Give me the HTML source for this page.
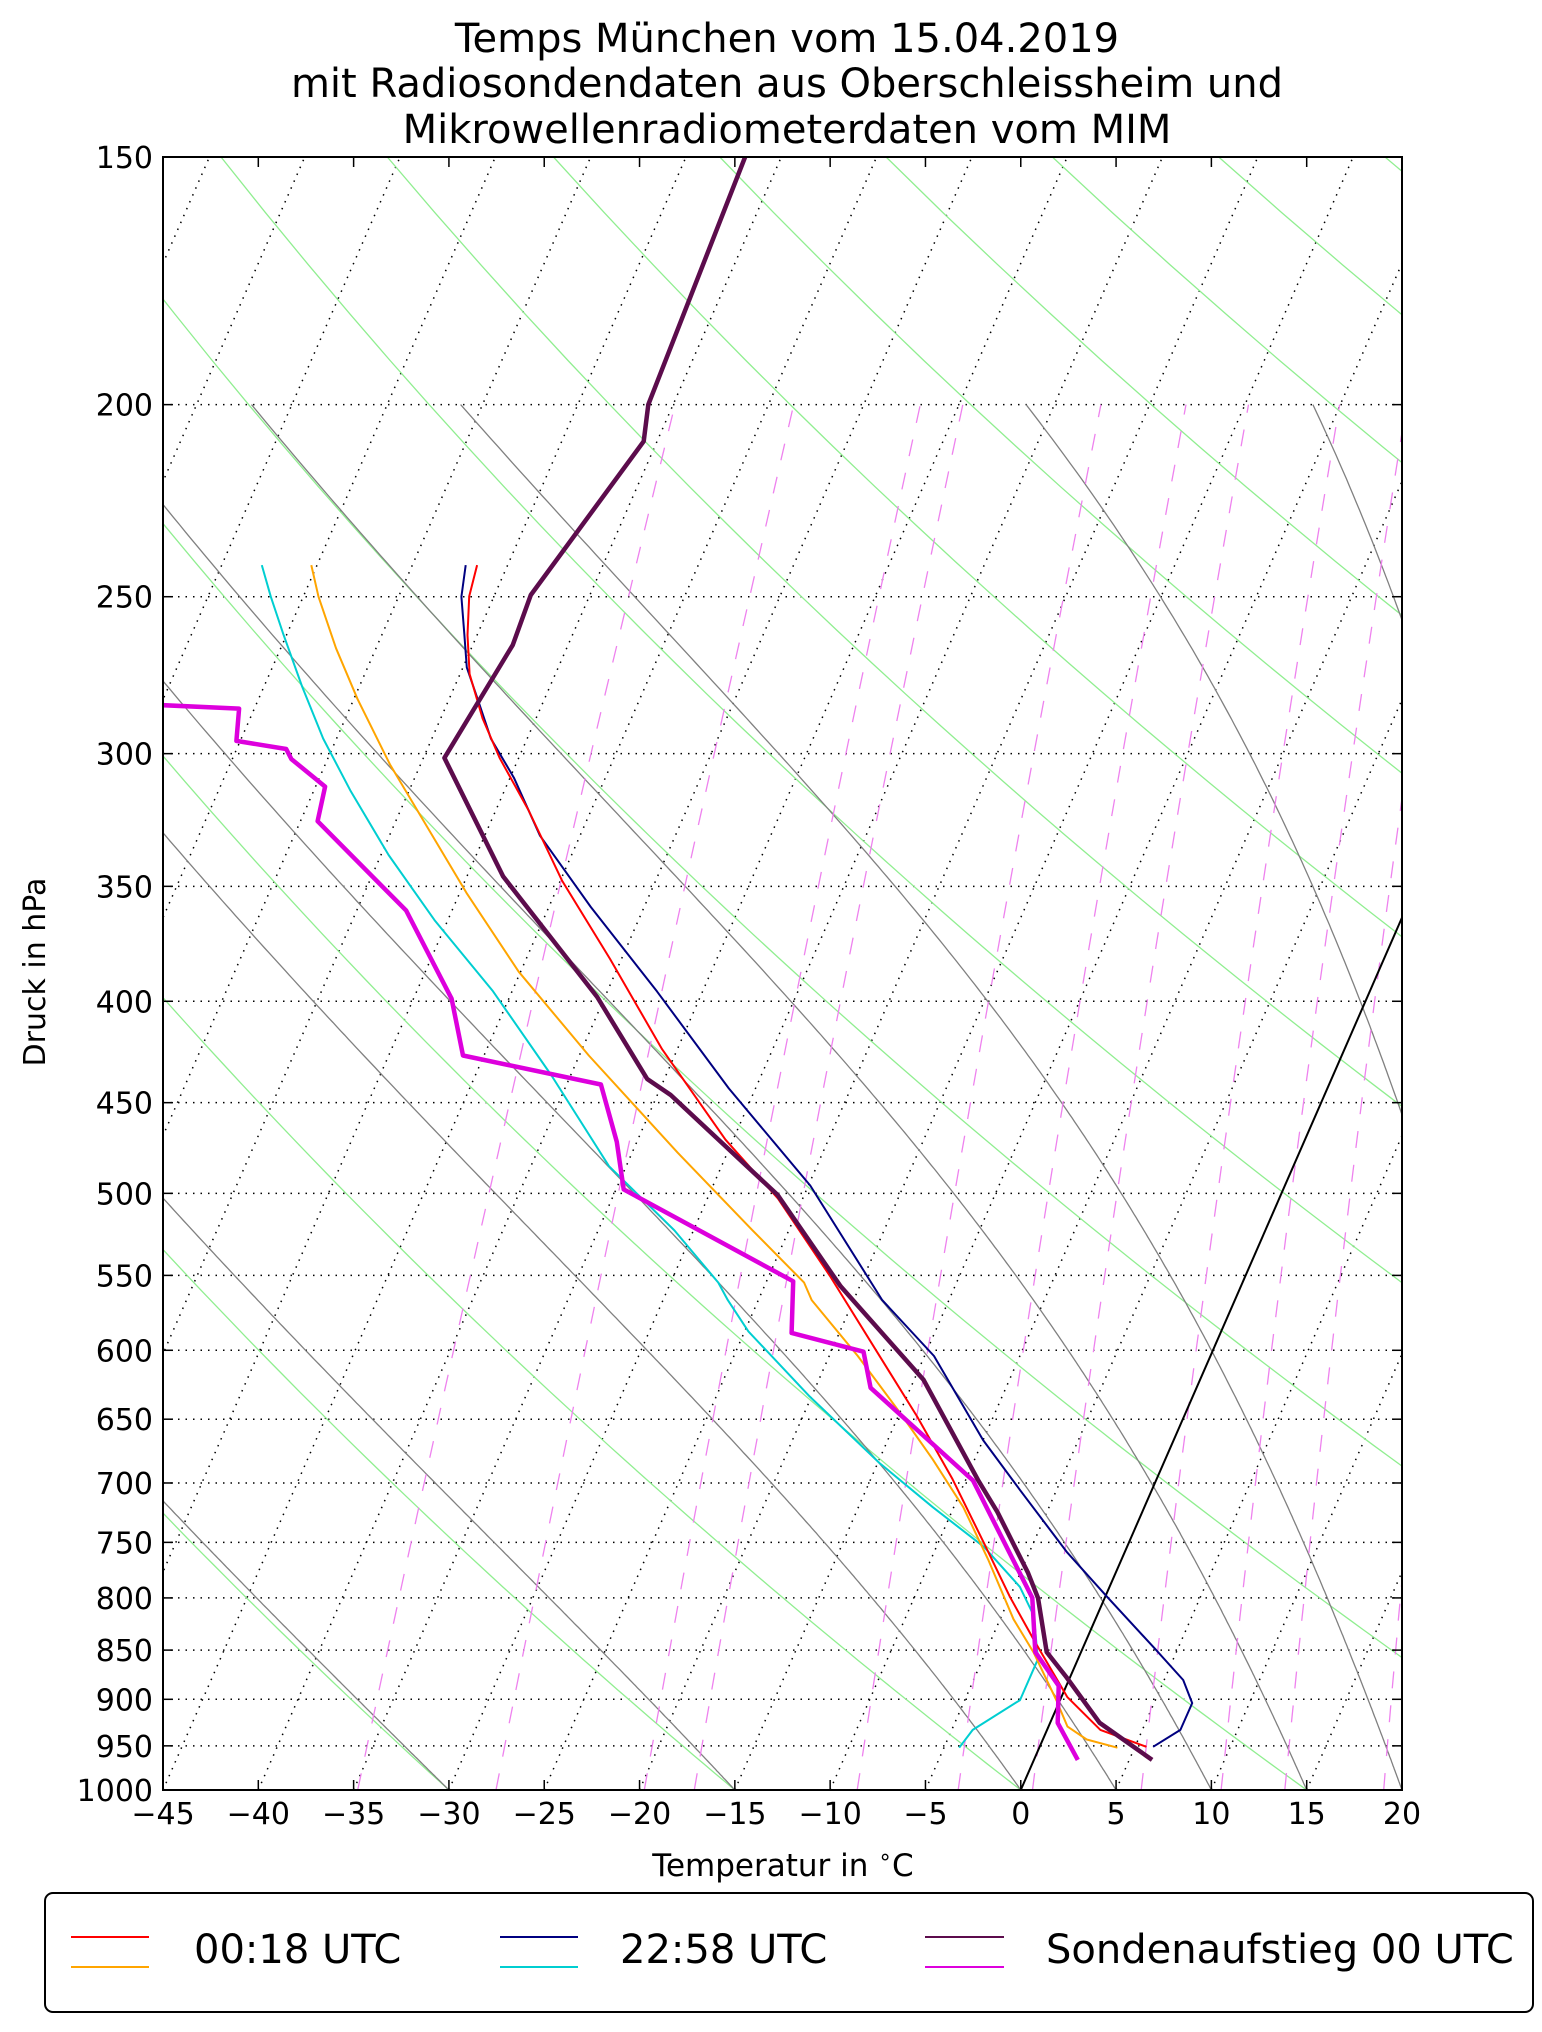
<!DOCTYPE html>
<html><head><meta charset="utf-8"><style>
html,body{margin:0;padding:0;background:#fff;}
svg{display:block;font-family:"DejaVu Sans","Liberation Sans",sans-serif;}
</style></head><body>
<svg id="chart" width="1542" height="2032" viewBox="0 0 1542 2032" xmlns="http://www.w3.org/2000/svg">
<rect width="1542" height="2032" fill="#fff"/>
<g font-size="40" text-anchor="middle" fill="#000">
<text x="787" y="52">Temps München vom 15.04.2019</text>
<text x="787" y="97">mit Radiosondendaten aus Oberschleissheim und</text>
<text x="787" y="143">Mikrowellenradiometerdaten vom MIM</text>
</g>
<defs><clipPath id="pc"><rect x="163" y="157" width="1239" height="1633"/></clipPath></defs>
<g id="bg" clip-path="url(#pc)"></g>
<g id="series" clip-path="url(#pc)"></g>
<rect x="163" y="157" width="1239" height="1633" fill="none" stroke="#000" stroke-width="2"/>
<g id="axes"></g>
<text x="0" y="0" font-size="30" text-anchor="middle" transform="translate(45,972) rotate(-90)">Druck in hPa</text>
<text x="783" y="1876" font-size="31" text-anchor="middle">Temperatur in <tspan font-size="22" dy="-12">∘</tspan><tspan dy="12">C</tspan></text>
<g>
<rect x="45" y="1893" width="1488" height="119" rx="8" fill="#fff" stroke="#000" stroke-width="2"/>
<line x1="71" y1="1937" x2="149" y2="1937" stroke="#ff0000" stroke-width="2"/>
<line x1="71" y1="1967" x2="149" y2="1967" stroke="#ffa500" stroke-width="2"/>
<text x="194" y="1963" font-size="40">00:18 UTC</text>
<line x1="500" y1="1937" x2="578" y2="1937" stroke="#000080" stroke-width="2"/>
<line x1="500" y1="1967" x2="578" y2="1967" stroke="#00ced1" stroke-width="2"/>
<text x="620" y="1963" font-size="40">22:58 UTC</text>
<line x1="925" y1="1937" x2="1004" y2="1937" stroke="#5c0c4c" stroke-width="2"/>
<line x1="925" y1="1967" x2="1004" y2="1967" stroke="#dd00dd" stroke-width="2"/>
<text x="1046" y="1963" font-size="40">Sondenaufstieg 00 UTC</text>
</g>
</svg>
<script>
const xTicks=[-45,-40,-35,-30,-25,-20,-15,-10,-5,0,5,10,15,20];
const pTicks=[150,200,250,300,350,400,450,500,550,600,650,700,750,800,850,900,950,1000];
const mixRatios=[0.2,0.4,0.8,1,2,3,4,6,8,10,14];
const dryTheta=[-45,-30,-15,0,15,30,45,60,75,90,105,120,135,150,165,180];
const moistT0=[-45,-30,-15,0,5,10,15,20,30,35];

const sondeTP=[150,200,208.7,249.5,264.4,301.5,346,398,437.8,446,500.9,557,621,697.6,724,777,800,852,877,925,965.6];
const sondeT=[-51.9,-51.3,-50.7,-53.1,-52.9,-53.9,-48.1,-40.4,-35.9,-34.3,-26.4,-21.0,-14.5,-9.35,-7.6,-4.6,-3.5,-1.8,-0.2,2.6,6.2];
const sondeDP=[283,284.7,295.6,298.4,301.9,311.7,324.5,360,398.8,426,440.6,471,497.7,553.8,588,601,626.7,698,800,852,886,925,965.6];
const sondeTd=[-72,-65.8,-65.2,-62.4,-61.9,-59.5,-59.1,-52.4,-48.0,-46.1,-38.2,-36.05,-34.6,-23.6,-22.5,-18.3,-17.1,-9.6,-3.8,-2.4,-0.4,0.4,2.3];
const mwr1TP=[241,249.9,261.4,273.5,288,301.5,320.3,347.8,380.8,422.9,469.8,503,550.3,648,697,750.5,799,841,897.5,932.6,951];
const mwr1T=[-56.6,-56.3,-55.5,-54.5,-52.8,-51.0,-48.3,-44.9,-40.6,-35.8,-30.4,-26.3,-21.8,-14.0,-10.7,-7.6,-5.0,-2.7,0.3,2.8,5.6];
const mwr1DP=[241,250,265.4,281.6,303.8,327.5,353,386.5,426,477,522,554.6,566,604,645,681,720,765,820,852,900.8,929,943,952];
const mwr1Td=[-65.3,-64.2,-62.1,-59.8,-56.6,-53.1,-49.6,-45.1,-39.5,-32.6,-26.9,-23.0,-22.2,-18.5,-15.0,-12.2,-9.5,-7.0,-4.3,-2.5,-0.2,1.0,2.3,4.1];
const mwr2TP=[241,250,261,271.4,281.6,294.8,308.5,330,358.5,395.4,442.6,495.5,566,604,666,706,759,799,850,880,904,932.6,951];
const mwr2T=[-57.2,-56.7,-55.7,-54.8,-53.5,-51.9,-49.8,-47.1,-42.8,-37.4,-31.4,-24.9,-18.5,-14.5,-10.0,-6.9,-3.0,0.1,3.9,6.0,7.0,7.0,5.95];
const mwr2DP=[241,250,261,277.5,294.8,313,337.5,364,395.4,436,484.5,522,554.6,566,587,633,684,720,754,789.8,817,859,900.8,932.6,952];
const mwr2Td=[-67.9,-66.7,-65.2,-63.0,-60.7,-58.1,-54.6,-50.7,-46.0,-41.0,-35.9,-31.0,-27.5,-26.6,-24.8,-20.1,-14.9,-11.1,-7.5,-4.7,-3.3,-2.1,-2.1,-3.9,-4.2];

const X0=163,XR=1402,YT=157,YB=1790,SK=0.437,PX=(XR-X0)/65;
function yOf(p){return YT+(YB-YT)*Math.log(p/150)/Math.log(1000/150);}
function xOf(T,p){return X0+PX*(T+45)+SK*(YB-yOf(p));}
const NS='http://www.w3.org/2000/svg';
function mk(tag,attrs,parent){const e=document.createElementNS(NS,tag);for(const k in attrs)e.setAttribute(k,attrs[k]);parent.appendChild(e);return e;}
function ptsStr(arr){return arr.map(a=>a[0].toFixed(1)+','+a[1].toFixed(1)).join(' ');}
const bg=document.getElementById('bg'),ser=document.getElementById('series'),ax=document.getElementById('axes');

for(let T=-160;T<=20;T+=5){
  const l=mk('line',{x1:xOf(T,1000),y1:yOf(1000),x2:xOf(T,150),y2:yOf(150),stroke:'#000','stroke-width':1.5,'stroke-dasharray':'1.5,6'},bg);
  
  
}
pTicks.forEach(p=>{
  const l=mk('line',{x1:X0,y1:yOf(p),x2:XR,y2:yOf(p),stroke:'#000','stroke-width':1.5,'stroke-dasharray':'1.5,6'},bg);
  
  
});
dryTheta.forEach(th=>{
  const pts=[];for(let p=1000;p>=150;p-=10){const T=(th+273.15)*Math.pow(p/1000,0.2857)-273.15;pts.push([xOf(T,p),yOf(p)]);}
  const l=mk('polyline',{points:ptsStr(pts),fill:'none',stroke:'#90ee90','stroke-width':1.3},bg);
  
  
});
function dTdp(T,p){const Tc=T-273.15;const es=6.112*Math.exp(17.67*Tc/(Tc+243.5));const rs=0.622*es/(p-es);
  const num=(287*T+2.5e6*rs)/p;const den=1004+(2.5e6*2.5e6*rs*0.622)/(287*T*T);return num/den;}
moistT0.forEach(t0=>{
  let T=t0+273.15;const pts=[[xOf(t0,1000),yOf(1000)]];
  for(let p=1000;p>200;p-=2){T+=dTdp(T,p)*(-2);pts.push([xOf(T-273.15,p-2),yOf(p-2)]);}
  const l=mk('polyline',{points:ptsStr(pts),fill:'none',stroke:'#808080','stroke-width':1.3},bg);
  
  
});
mixRatios.forEach(w=>{
  const pts=[];for(let p=1000;p>=200;p-=20){const e=(w/1000)*p/(0.622+w/1000);const L=Math.log(e/6.112);const Td=243.5*L/(17.67-L);pts.push([xOf(Td,p),yOf(p)]);}
  const l=mk('polyline',{points:ptsStr(pts),fill:'none',stroke:'#ee82ee','stroke-width':1.3,'stroke-dasharray':'17,17'},bg);
  
  
});
const zl=mk('line',{x1:xOf(0,1000),y1:yOf(1000),x2:xOf(0,150),y2:yOf(150),stroke:'#000','stroke-width':2},bg);



function series(P,T,color,w,name){
  const pts=P.map((p,i)=>[xOf(T[i],p),yOf(p)]);
  const l=mk('polyline',{points:ptsStr(pts),fill:'none',stroke:color,'stroke-width':w,'stroke-linejoin':'round'},ser);
  
  
}
series(mwr2DP,mwr2Td,'#00ced1',2,'mwr-2258-dewpoint');
series(mwr1DP,mwr1Td,'#ffa500',2,'mwr-0018-dewpoint');
series(mwr2TP,mwr2T,'#000080',2,'mwr-2258-temperature');
series(mwr1TP,mwr1T,'#ff0000',2,'mwr-0018-temperature');
series(sondeDP,sondeTd,'#dd00dd',4.5,'sonde-dewpoint');
series(sondeTP,sondeT,'#5c0c4c',4.5,'sonde-temperature');

xTicks.forEach(t=>{
  const x=X0+PX*(t+45);
  let l=mk('line',{x1:x,y1:YB,x2:x,y2:YB-10,stroke:'#000','stroke-width':1.5},ax);
  
  
  l=mk('line',{x1:x,y1:YT,x2:x,y2:YT+10,stroke:'#000','stroke-width':1.5},ax);
  
  
  const tx=mk('text',{x:x,y:YB+34,'font-size':30,'text-anchor':'middle'},ax);
  tx.textContent=(t<0?'\u2212'+(-t):String(t));
  
  
});
pTicks.forEach(p=>{
  const y=yOf(p);
  let l=mk('line',{x1:X0,y1:y,x2:X0+10,y2:y,stroke:'#000','stroke-width':1.5},ax);
  
  
  l=mk('line',{x1:XR,y1:y,x2:XR-10,y2:y,stroke:'#000','stroke-width':1.5},ax);
  
  
  const tx=mk('text',{x:153,y:y+11,'font-size':30,'text-anchor':'end'},ax);
  tx.textContent=String(p);
  
  
});
</script>
</body></html>
